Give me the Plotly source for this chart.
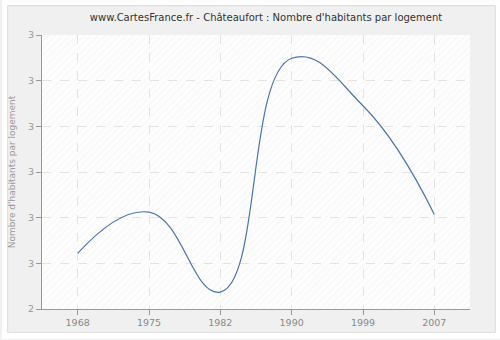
import plotly.graph_objects as go

years = ["1968", "1975", "1982", "1990", "1999", "2007"]
values = [2.522, 2.612, 2.437, 2.949, 2.845, 2.607]
ytick_vals = [2.4, 2.5, 2.6, 2.7, 2.8, 2.9, 3.0]
ytick_text = ["2", "3", "3", "3", "3", "3", "3"]

xpos = list(range(len(years)))
xr = [-0.5, len(years) - 0.5]
yr = [ytick_vals[0], ytick_vals[-1]]

fig = go.Figure()

# hatched plot background (decoration)
fig.add_trace(go.Scatter(
    x=[xr[0], xr[1], xr[1], xr[0], xr[0]], y=[yr[0], yr[0], yr[1], yr[1], yr[0]],
    mode="lines", line=dict(width=0), fill="toself", fillcolor="rgba(255,255,255,0)",
    fillpattern=dict(shape="/", fgcolor="#eeeeee", bgcolor="rgba(0,0,0,0)", size=5, solidity=0.2),
    hoverinfo="skip", showlegend=False))

fig.add_trace(go.Scatter(
    x=xpos, y=values, mode="lines",
    line=dict(color="#4a76ab", width=1.2, shape="spline", smoothing=1.3),
    showlegend=False))

# frame in pixel terms -> paper fractions (plot area 430 x 275, origin at 40,310)
def px(xp):
    return (xp - 40) / 430.0

def py(yp):
    return (310 - yp) / 275.0

white = dict(type="rect", xref="paper", yref="paper", layer="below",
             fillcolor="white", line=dict(width=0))
shapes = [
    dict(white, x0=px(0), x1=px(500), y0=py(340), y1=py(333.5)),
    dict(white, x0=px(0), x1=px(500), y0=py(5.5), y1=py(0)),
    dict(white, x0=px(0), x1=px(5.5), y0=py(340), y1=py(0)),
    dict(white, x0=px(495.5), x1=px(500), y0=py(340), y1=py(0)),
    dict(type="rect", xref="paper", yref="paper", layer="below",
         x0=px(5.5), x1=px(495.5), y0=py(333.5), y1=py(5.5),
         fillcolor="rgba(0,0,0,0)", line=dict(color="#dcdcdc", width=1)),
]

fig.update_layout(
    width=500, height=340,
    margin=dict(l=40, r=30, t=35, b=30),
    paper_bgcolor="#f0f0f0",
    plot_bgcolor="#fdfdfd",
    title=dict(text="www.CartesFrance.fr - Châteaufort : Nombre d'habitants par logement",
               x=0.532, xanchor="center", y=0.95, yanchor="middle",
               font=dict(family="DejaVu Sans", size=10, color="#333333")),
    xaxis=dict(range=xr, tickvals=xpos, ticktext=years, showgrid=True,
               gridcolor="#e2e2e2", griddash="dash", gridwidth=1,
               showline=True, linecolor="#999999", linewidth=1,
               ticks="outside", ticklen=5, tickcolor="#999999",
               tickfont=dict(family="DejaVu Sans", size=9.5, color="#888888"),
               zeroline=False),
    yaxis=dict(range=yr, tickvals=ytick_vals, ticktext=ytick_text,
               showgrid=True, gridcolor="#e2e2e2", griddash="dash", gridwidth=1,
               showline=True, linecolor="#999999", linewidth=1,
               ticks="outside", ticklen=5, tickcolor="#999999",
               tickfont=dict(family="DejaVu Sans", size=9.5, color="#999999"),
               title=dict(text="Nombre d'habitants par logement", standoff=10,
                          font=dict(family="DejaVu Sans", size=9, color="#999999")),
               zeroline=False),
    shapes=shapes,
)

fig.write_html("out.html")
